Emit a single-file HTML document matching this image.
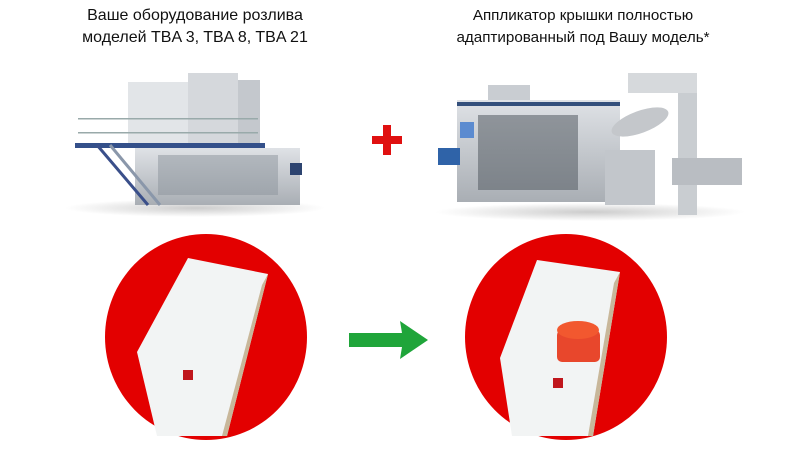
<!DOCTYPE html>
<html><head><meta charset="utf-8"><style>
html,body{margin:0;padding:0;background:#fff;}
body{width:800px;height:453px;position:relative;overflow:hidden;font-family:"Liberation Sans",sans-serif;}
.t{position:absolute;text-align:center;font-size:16px;line-height:22px;color:#111;}
</style></head><body>
<div class="t" style="left:45px;top:5px;width:300px;">Ваше оборудование розлива<br>моделей TBA 3, TBA 8, TBA 21</div>
<div class="t" style="left:413px;top:5px;width:340px;font-size:15.2px;">Аппликатор крышки полностью<br>адаптированный под Вашу модель*</div>
<svg width="800" height="453" style="position:absolute;left:0;top:0">
<defs>
<linearGradient id="m" x1="0" y1="0" x2="0" y2="1"><stop offset="0" stop-color="#dfe2e6"/><stop offset="1" stop-color="#a9aeb4"/></linearGradient>
<radialGradient id="sh"><stop offset="0" stop-color="#999" stop-opacity=".5"/><stop offset="1" stop-color="#999" stop-opacity="0"/></radialGradient>
</defs>
<!-- left machine -->
<ellipse cx="195" cy="208" rx="130" ry="9" fill="url(#sh)"/>
<rect x="128" y="82" width="60" height="63" fill="#e2e5e8"/>
<rect x="188" y="73" width="50" height="72" fill="#d5d8dc"/>
<rect x="238" y="80" width="22" height="65" fill="#c4c8cd"/>
<rect x="78" y="118" width="180" height="1.5" fill="#9aa"/>
<rect x="78" y="132" width="180" height="1.5" fill="#9aa"/>
<rect x="75" y="143" width="190" height="5" fill="#34508a"/>
<rect x="135" y="148" width="165" height="57" fill="url(#m)"/>
<rect x="158" y="155" width="120" height="40" fill="#8c939b" opacity=".5"/>
<line x1="97" y1="145" x2="148" y2="205" stroke="#3a4f8a" stroke-width="3"/>
<line x1="110" y1="145" x2="160" y2="205" stroke="#8a97aa" stroke-width="3"/>
<rect x="290" y="163" width="12" height="12" fill="#2d4470"/>
<!-- plus -->
<rect x="372" y="136" width="30" height="8" fill="#e01010"/>
<rect x="383" y="125" width="8" height="30" fill="#e01010"/>
<!-- right machine -->
<ellipse cx="590" cy="212" rx="155" ry="9" fill="url(#sh)"/>
<rect x="488" y="85" width="42" height="16" fill="#c9cdd2"/>
<rect x="457" y="100" width="163" height="102" fill="url(#m)"/>
<rect x="457" y="102" width="163" height="4" fill="#34507c"/>
<rect x="478" y="115" width="100" height="75" fill="#545b63" opacity=".55"/>
<rect x="460" y="122" width="14" height="16" fill="#5b8bd0"/>
<rect x="438" y="148" width="22" height="17" fill="#2f63a8"/>
<rect x="605" y="150" width="50" height="55" fill="#c2c6cb"/>
<rect x="678" y="73" width="19" height="142" fill="#c9cdd1"/>
<rect x="628" y="73" width="69" height="20" fill="#d6d9dc"/>
<rect x="672" y="158" width="70" height="27" fill="#b9bdc2"/>
<ellipse cx="640" cy="122" rx="30" ry="11" fill="#c4c7cb" transform="rotate(-20 640 122)"/>
<!-- circles -->
<ellipse cx="206" cy="337" rx="101" ry="103" fill="#e30000"/>
<ellipse cx="566" cy="337" rx="101" ry="103" fill="#e30000"/>
<!-- cartons -->
<polygon points="188,258 268,274 227,436 157,436 137,352" fill="#f2f4f4"/>
<polygon points="268,274 262,285 222,436 227,436" fill="#c8b79a"/>
<rect x="183" y="370" width="10" height="10" fill="#c0161c"/>
<polygon points="537,260 620,272 593,436 512,436 500,358" fill="#f2f4f4"/>
<polygon points="620,272 614,283 588,436 593,436" fill="#c8b79a"/>
<rect x="553" y="378" width="10" height="10" fill="#c0161c"/>
<rect x="557" y="330" width="43" height="32" rx="5" fill="#e8472c"/>
<ellipse cx="578" cy="330" rx="21" ry="9" fill="#f2582f"/>
<!-- arrow -->
<polygon points="349,333 402,333 400,321 428,340 400,359 402,347 349,347" fill="#1fa53a"/>
</svg>
</body></html>
